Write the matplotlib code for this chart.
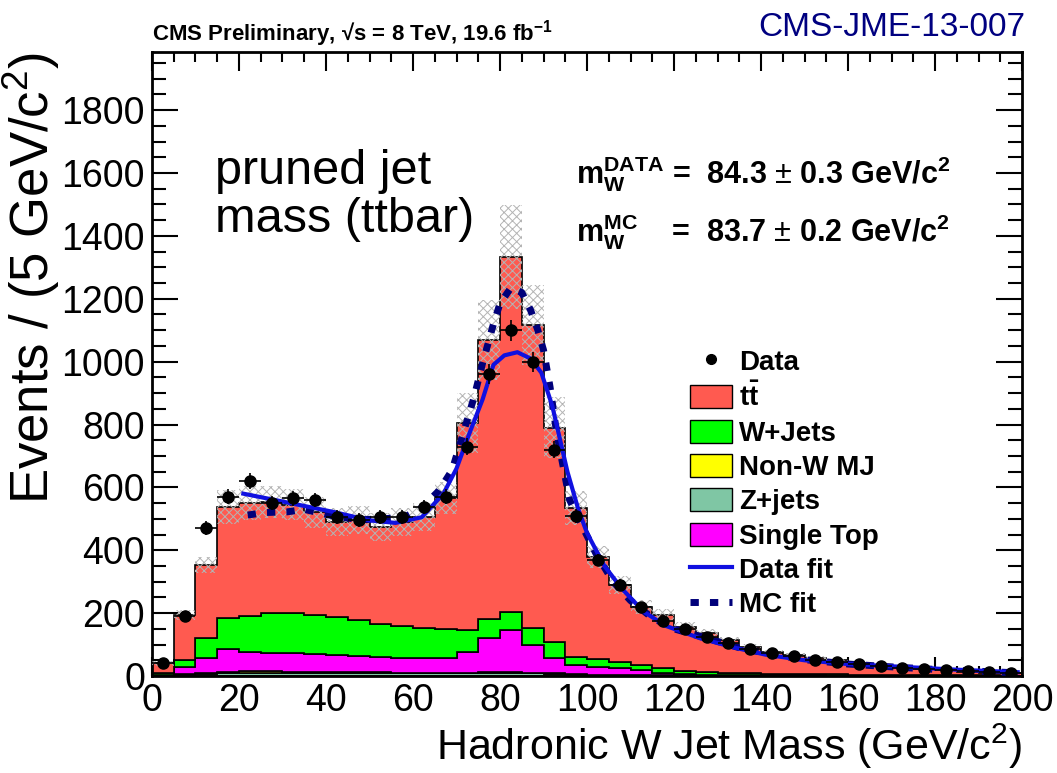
import numpy as np
import matplotlib.pyplot as plt
from matplotlib.patches import Patch
from matplotlib.lines import Line2D
from matplotlib.ticker import MultipleLocator

# bin edges of the histogram (5 GeV bins)
edges = np.arange(0, 205, 5)
centers = edges[:-1] + 2.5

# stacked MC components (events per bin)
zjets = [1, 3, 6, 10, 11, 11, 10, 10, 10, 9, 9, 8, 8, 8, 8, 9, 9, 8, 6, 4,
         3, 3, 2, 2, 1, 1, 1, 1, 1, 1, 0, 0, 0, 0, 0, 0, 0, 0, 0, 0]
nonw_mj = [1, 2, 3, 4, 4, 4, 4, 4, 4, 4, 4, 3, 3, 3, 3, 3, 3, 3, 2, 2,
           1, 1, 1, 1, 1, 0, 0, 0, 0, 0, 0, 0, 0, 0, 0, 0, 0, 0, 0, 0]
single_top = [2, 23, 48, 72, 62, 58, 59, 57, 54, 49, 47, 47, 47, 47, 66, 108, 133, 89, 50, 29,
              25, 21, 16, 7, 4, 3, 2, 2, 1, 1, 2, 1, 1, 1, 1, 1, 1, 0, 0, 0]
wjets = [4, 22, 64, 98, 114, 127, 127, 123, 120, 116, 105, 100, 95, 90, 69, 60, 58, 52, 50, 25,
         25, 20, 16, 15, 9, 8, 7, 5, 5, 4, 3, 4, 3, 3, 2, 2, 1, 2, 2, 1]
ttbar = [32, 144, 232, 354, 359, 354, 345, 327, 302, 318, 310, 333, 353, 418, 659, 889, 1130, 964, 682, 475,
         326, 245, 185, 169, 142, 125, 105, 85, 69, 61, 53, 45, 36, 30, 25, 20, 16, 12, 9, 7]
mc_unc = [8, 15, 25, 55, 55, 50, 50, 50, 45, 45, 45, 45, 45, 50, 95, 127, 165, 127, 97, 55,
          35, 28, 22, 18, 15, 12, 10, 9, 8, 7, 6, 5, 5, 4, 4, 3, 3, 2, 2, 2]

# data points
data = [40, 190, 470, 570, 620, 550, 566, 560, 506, 496, 506, 506, 538, 570, 729, 960, 1100, 1000, 720, 510,
        370, 290, 220, 175, 150, 125, 105, 85, 72, 62, 52, 45, 38, 32, 26, 22, 18, 15, 12, 8]

# fit curves
fit_data_x = [21, 30, 42, 50, 56, 62, 67, 70, 73, 76, 78.5, 81, 84, 87, 89.5, 92, 95.5, 98, 100,
              104, 108, 113, 118, 126, 134, 141, 150, 160, 174, 185, 199]
fit_data_y = [580, 555, 521, 495, 487, 505, 580, 660, 773, 880, 990, 1020, 1030, 1010, 965, 860, 650, 530, 455,
              350, 278, 205, 160, 120, 90, 68, 50, 38, 28, 20, 12]
fit_mc_x = [22, 26, 31, 35, 42, 48, 53, 58, 62, 66, 69, 71.5, 74, 76, 77.5, 78.5, 80, 82.5, 85, 87, 88.7,
            90, 91.5, 93, 96, 99, 102, 106, 110, 115, 120, 128, 135, 142, 150, 160, 170, 180, 190, 199]
fit_mc_y = [512, 520, 522, 530, 508, 497, 500, 505, 535, 590, 655, 770, 885, 995, 1070, 1120, 1185, 1235, 1220,
            1165, 1100, 1037, 920, 775, 560, 474, 391, 300, 240, 185, 150, 118, 90, 70, 52, 38, 29, 21, 15, 10]

components = [
    ("Z+jets", zjets, "#7fc6a4"),
    ("Non-W MJ", nonw_mj, "#ffff00"),
    ("Single Top", single_top, "#ff00ff"),
    ("W+Jets", wjets, "#00ff00"),
    ("tt", ttbar, "#ff5a50"),
]

plt.rcParams['font.family'] = ['Liberation Sans', 'DejaVu Sans']
plt.rcParams['mathtext.fontset'] = 'custom'
plt.rcParams['mathtext.rm'] = 'Liberation Sans'
plt.rcParams['mathtext.bf'] = 'Liberation Sans:bold'
plt.rcParams['mathtext.it'] = 'Liberation Sans:italic'
plt.rcParams['hatch.linewidth'] = 0.7

fig = plt.figure(figsize=(10.57, 7.73), dpi=100)
ax = fig.add_axes([0.1438, 0.1255, 0.8231, 0.8072])

# stacked histogram
bottom = np.zeros(len(centers))
for name, vals, col in components:
    vals = np.array(vals, dtype=float)
    ax.stairs(bottom + vals, edges, baseline=bottom, fill=True,
              facecolor=col, edgecolor='black', linewidth=1.2, zorder=2)
    bottom = bottom + vals
total = bottom

# MC uncertainty band
unc = np.array(mc_unc, dtype=float)
ax.stairs(total + unc, edges, baseline=total - unc, fill=True, facecolor='none',
          edgecolor='#b4b4b4', hatch='xxxx', linewidth=0, zorder=3)

# fits
ax.plot(fit_mc_x, fit_mc_y, color='#00007a', linewidth=5, linestyle=(0, (1.2, 1.6)),
        zorder=4)
ax.plot(fit_data_x, fit_data_y, color='#1010e0', linewidth=3, zorder=5)

# data
ax.errorbar(centers, data, yerr=np.sqrt(data), xerr=2.5, fmt='o', color='black',
            markersize=8, elinewidth=1.2, capsize=0, zorder=6)

ax.set_xlim(0, 200)
ax.set_ylim(0, 1985)
ax.xaxis.set_major_locator(MultipleLocator(20))
ax.xaxis.set_minor_locator(MultipleLocator(5))
ax.yaxis.set_major_locator(MultipleLocator(200))
ax.yaxis.set_minor_locator(MultipleLocator(50))
ax.tick_params(axis='both', which='both', direction='in', top=True, right=True, width=1.5)
ax.tick_params(axis='y', which='major', length=19, labelsize=27, pad=5)
ax.tick_params(axis='y', which='minor', length=10)
ax.tick_params(axis='x', which='major', length=14, labelsize=27, pad=5)
ax.tick_params(axis='x', which='minor', length=7)
for s in ax.spines.values():
    s.set_linewidth(2)

ax.set_xlabel('Hadronic W Jet Mass (GeV/c$^{2}$)', fontsize=31, loc='right', labelpad=2)
ax.set_ylabel('Events / (5 GeV/c$^{2}$)', fontsize=38, loc='top', labelpad=0)

fig.text(0.1438, 0.937, 'CMS Preliminary, √s = 8 TeV, 19.6 fb$^{\\mathbf{-1}}$',
         fontsize=16, fontweight='bold', ha='left', va='bottom')
fig.text(0.97, 0.965, 'CMS-JME-13-007', fontsize=24, color='#000080', ha='right', va='center')

ax.text(0.072, 0.845, 'pruned jet\nmass (ttbar)', transform=ax.transAxes, fontsize=35,
        ha='left', va='top', linespacing=1.1)

ax.text(0.487, 0.805, r'$\mathbf{m_W^{DATA}}$ =  84.3 $\pm$ 0.3 GeV/c$^{\mathbf{2}}$',
        transform=ax.transAxes, fontsize=22, fontweight='bold', ha='left', va='center')
ax.text(0.487, 0.712, r'$\mathbf{m_W^{MC}}$    =  83.7 $\pm$ 0.2 GeV/c$^{\mathbf{2}}$',
        transform=ax.transAxes, fontsize=22, fontweight='bold', ha='left', va='center')

handles = [
    Line2D([], [], marker='o', color='black', linestyle='none', markersize=7),
    Patch(facecolor='#ff5a50', edgecolor='black'),
    Patch(facecolor='#00ff00', edgecolor='black'),
    Patch(facecolor='#ffff00', edgecolor='black'),
    Patch(facecolor='#7fc6a4', edgecolor='black'),
    Patch(facecolor='#ff00ff', edgecolor='black'),
    Line2D([], [], color='#1010e0', linewidth=3),
    Line2D([], [], color='#00007a', linewidth=5, linestyle=(0, (1.2, 1.6))),
]
labels = ['Data', r'$\mathbf{t\bar{t}}$', 'W+Jets', 'Non-W MJ', 'Z+jets', 'Single Top',
          'Data fit', 'MC fit']
ax.legend(handles, labels, loc='upper left', bbox_to_anchor=(0.606, 0.542), frameon=False,
          prop={'weight': 'bold', 'size': 20}, handlelength=1.5, handleheight=0.9,
          handletextpad=0.25, labelspacing=0.26, borderaxespad=0)

fig.savefig('out.png', dpi=100)
